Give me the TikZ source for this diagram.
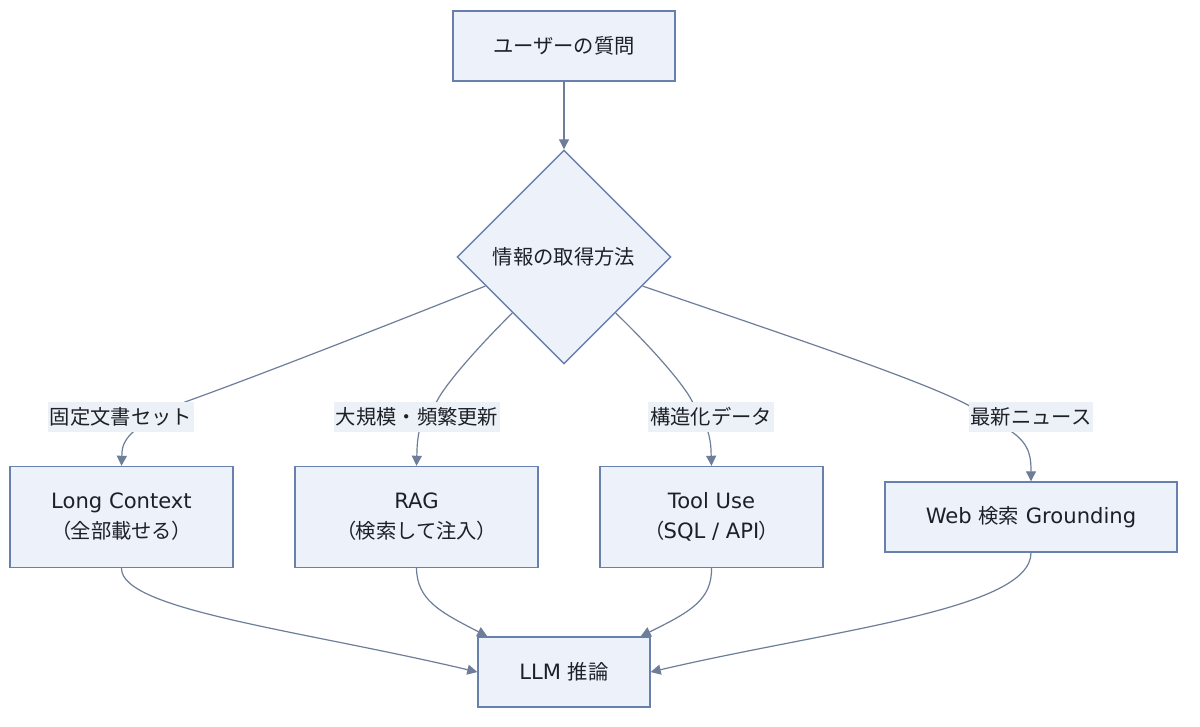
\documentclass[tikz,border=0pt]{standalone}
\usepackage{fontspec}
\setmainfont{Noto Sans CJK JP}
\newfontfamily\lat[Scale=1.04]{DejaVu Sans}
\newfontfamily\pp[RawFeature=+palt]{Noto Sans CJK JP}
\usetikzlibrary{shapes.geometric,arrows.meta,calc}
\definecolor{boxfill}{RGB}{237,242,250}
\definecolor{boxdraw}{RGB}{104,128,172}
\definecolor{edgecol}{RGB}{110,126,152}
\definecolor{txt}{RGB}{30,32,40}
\definecolor{lblfill}{RGB}{236,241,247}
\newcommand\mysz{\fontsize{20.3}{30}\selectfont}
\begin{document}
\begin{tikzpicture}[x=1pt,y=-1pt,
  box/.style={draw=boxdraw,line width=1.4pt,fill=boxfill,text=txt,font=\mysz,align=center,inner sep=0pt},
  dia/.style={box,diamond,aspect=1,minimum width=214pt,minimum height=214pt},
  lbl/.style={fill=lblfill,text=txt,font=\mysz,inner xsep=2pt,inner ysep=0pt,minimum height=30pt},
  edge/.style={draw=edgecol,line width=1.2pt,-{Triangle[length=10pt,width=10pt]}}]
\useasboundingbox[fill=white] (0,0) rectangle (1200,726);
% nodes
\node[box,minimum width=222pt,minimum height=70pt] (q) at (564,46) {ユーザーの質問};
\node[dia] (d) at (564,257) {情報の取得方法};
\node[box,minimum width=223pt,minimum height=101pt] (b1) at (121.5,517) {{\lat Long Context}\\{\pp（}全部載せる{\pp ）}};
\node[box,minimum width=243pt,minimum height=101pt] (b2) at (416.5,517) {{\lat RAG}\\{\pp（}検索して注入{\pp ）}};
\node[box,minimum width=223pt,minimum height=101pt] (b3) at (711.5,517) {{\lat Tool Use}\\{\pp（}{\lat SQL / API}{\pp ）}};
\node[box,minimum width=292pt,minimum height=70pt] (b4) at (1031,517) {{\lat Web }検索{\lat{} Grounding}};
\node[box,minimum width=172pt,minimum height=70pt] (llm) at (564,672) {{\lat LLM }推論};
% edges
\draw[edge] (q.south) -- (d.north);
\coordinate (s1) at ($(d.west)!0.27!(d.south)$);
\coordinate (s2) at ($(d.west)!0.52!(d.south)$);
\coordinate (s3) at ($(d.east)!0.52!(d.south)$);
\coordinate (s4) at ($(d.east)!0.27!(d.south)$);
\draw[edge] (s1) .. controls (380,328) and (260,375) .. (185,402) -- (133,432) .. controls (122,442) and (122,450) .. (b1.north);
\draw[edge] (s2) .. controls (475,350) and (445,385) .. (437,401) -- (419,432) .. controls (417,442) and (417,450) .. (b2.north);
\draw[edge] (s3) .. controls (654,350) and (684,385) .. (692,401) -- (708,432) .. controls (711,442) and (711,450) .. (b3.north);
\draw[edge] (s4) .. controls (800,340) and (920,380) .. (968,405) -- (1012,432) .. controls (1031,445) and (1031,460) .. (b4.north);
\draw[edge] (b1.south) .. controls (121,610) and (300,630) .. (llm.west);
\draw[edge] (b2.south) .. controls (417,600) and (440,612) .. ($(llm.north west)+(10,0)$);
\draw[edge] (b3.south) .. controls (712,600) and (690,612) .. ($(llm.north east)+(-10,0)$);
\draw[edge] (b4.south) .. controls (1031,610) and (830,630) .. (llm.east);
% edge labels
\node[lbl] (l1) at (121,417) {固定文書セット};
\node[lbl] (l2) at (417,417) {大規模・頻繁更新};
\node[lbl] (l3) at (711,417) {構造化データ};
\node[lbl] (l4) at (1031,417) {最新ニュース};
\end{tikzpicture}
\end{document}
